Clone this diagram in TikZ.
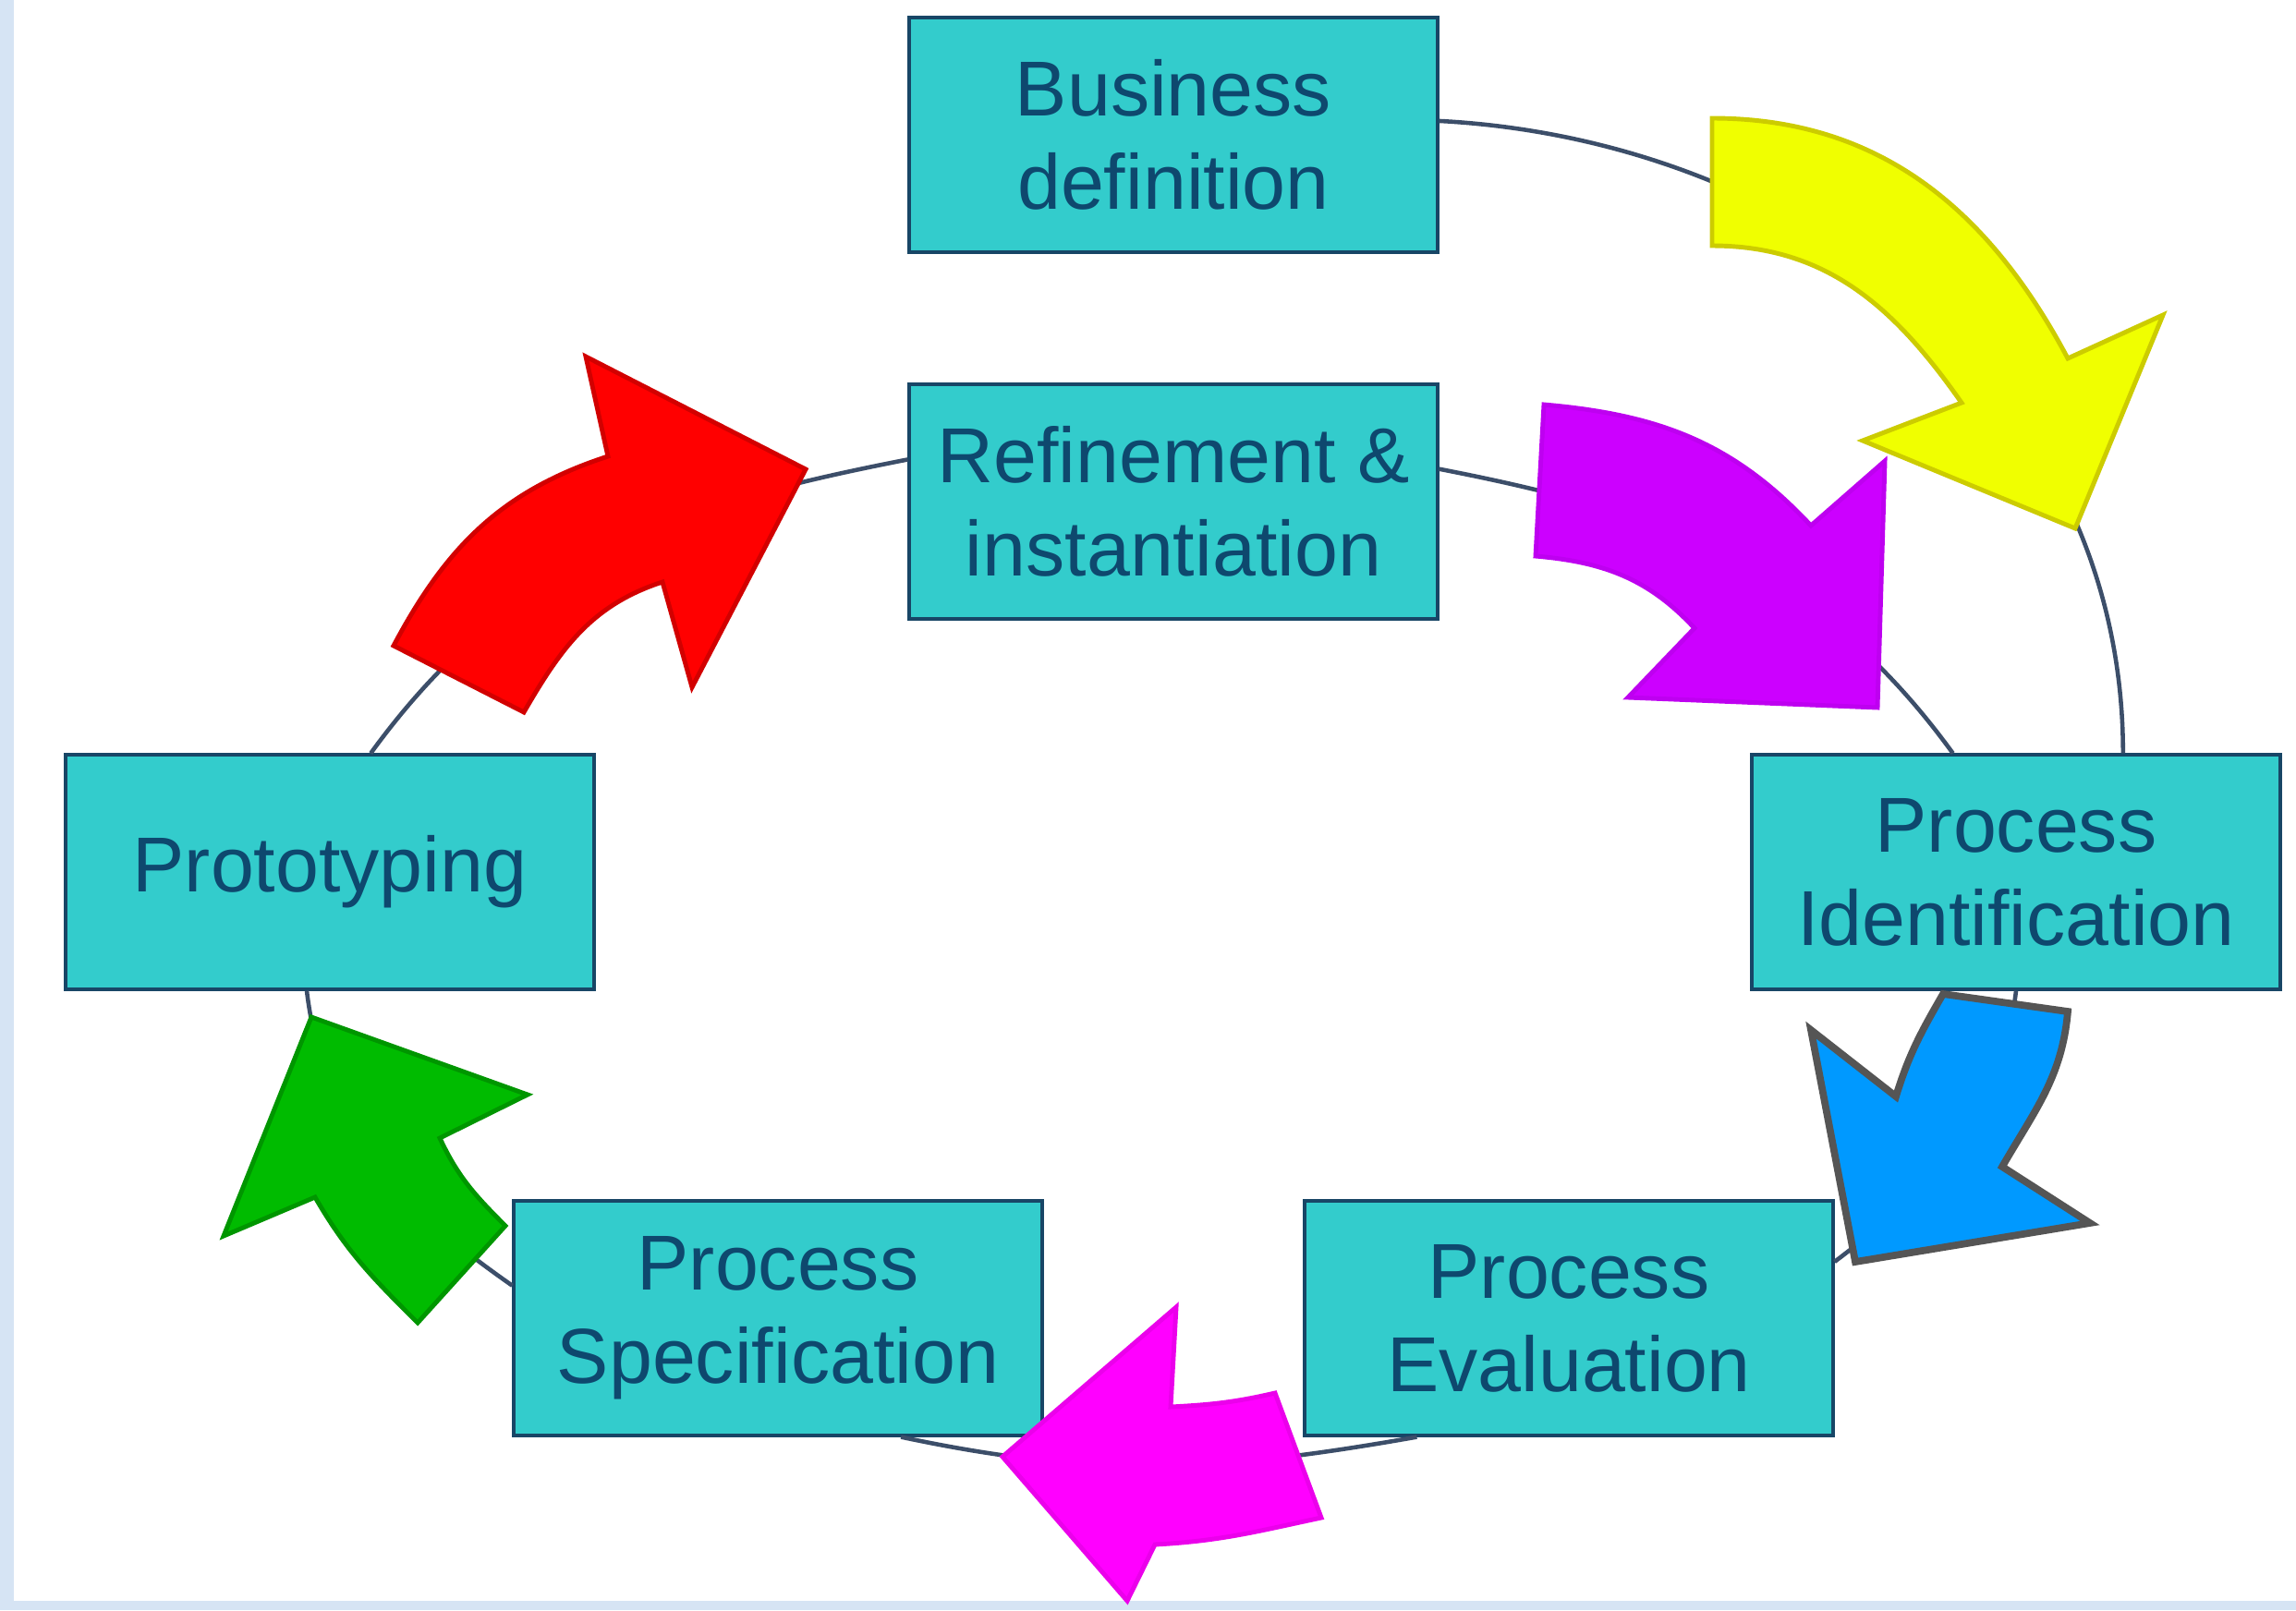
\documentclass[tikz,border=0pt]{standalone}
\usepackage{fontspec}
\setmainfont{Liberation Sans}
\definecolor{boxfill}{RGB}{51,204,204}
\definecolor{boxline}{RGB}{24,70,102}
\definecolor{boxtext}{RGB}{14,72,110}
\definecolor{ringline}{RGB}{60,78,105}
\definecolor{slideblue}{RGB}{214,228,244}
\definecolor{yellowfill}{RGB}{240,255,0}
\definecolor{yellowline}{RGB}{204,204,0}
\definecolor{violetfill}{RGB}{204,0,255}
\definecolor{violetline}{RGB}{190,0,240}
\definecolor{bluefill}{RGB}{0,153,255}
\definecolor{blueline}{RGB}{85,85,85}
\definecolor{pinkfill}{RGB}{255,0,255}
\definecolor{pinkline}{RGB}{235,0,235}
\definecolor{greenfill}{RGB}{0,187,0}
\definecolor{greenline}{RGB}{0,150,0}
\definecolor{redfill}{RGB}{255,0,0}
\definecolor{redline}{RGB}{210,0,0}
\begin{document}
\begin{tikzpicture}[
    x=1cm, y=1cm,
    stage/.style={draw=boxline, fill=boxfill, line width=0.9pt,
                  minimum width=5.72cm, minimum height=2.54cm,
                  align=center, text=boxtext, font=\fontsize{24}{28.7}\selectfont},
    ring/.style={draw=ringline, line width=1.3pt},
    bigarrow/.style={line width=1.4pt, line join=miter}
  ]
  \useasboundingbox (0,0) rectangle (24.85,-17.43);
  \fill[slideblue] (0,0) rectangle (24.85,-17.43);
  \fill[white] (0.15,0) rectangle (24.85,-17.33);

  % stages
  \foreach \nm/\xx/\yy/\txt in {
      bd/12.70/-1.46/Business\\definition,
      ri/12.70/-5.43/Refinement \&\\instantiation,
      pp/3.57/-9.44/Prototyping,
      pi/21.82/-9.44/Process\\Identification,
      ps/8.42/-14.27/Process\\Specification,
      pe/16.98/-14.27/Process\\Evaluation} {
    \node[stage] (\nm) at (\xx,\yy) {\txt};
  }

  % ring
  \draw[ring] (bd.3) to[out=-3,in=90] (pi.48);
  \draw[ring] (ri.7) to[out=-11,in=126] (pi.118);
  \draw[ring] (pi.south) to[out=-97,in=37] (pe.12);
  \draw[ring] (pe.218) to[out=190,in=-12] (ps.316);
  \draw[ring] (ps.173) to[out=145,in=-83] (pp.259);
  \draw[ring] (pp.71) to[out=54,in=-169] (ri.171);

  % block arrows
  \draw[bigarrow, draw=yellowline, fill=yellowfill]
    (21.23,-4.36) to[out=125,in=0] (18.53,-2.66) -- (18.53,-1.28)
    to[out=0,in=118] (22.38,-3.88) -- (23.41,-3.41) -- (22.46,-5.72)
    -- (20.16,-4.77) -- cycle;
  \draw[bigarrow, draw=violetline, fill=violetfill]
    (18.34,-6.80) to[out=133,in=-5] (16.62,-6.02) -- (16.71,-4.38)
    to[out=-5,in=133] (19.60,-5.69) -- (20.40,-4.99) -- (20.32,-7.66)
    -- (17.62,-7.55) -- cycle;
  \draw[bigarrow, draw=blueline, fill=bluefill, line width=2.2pt]
    (20.52,-11.87) to[out=73,in=-120] (21.03,-10.76) -- (22.38,-10.95)
    to[out=-95,in=60] (21.67,-12.63) -- (22.62,-13.24) -- (20.08,-13.66)
    -- (19.60,-11.15) -- cycle;
  \draw[bigarrow, draw=pinkline, fill=pinkfill]
    (12.50,-16.72) to[out=3,in=192] (14.30,-16.43) -- (13.80,-15.08)
    to[out=193,in=3] (12.67,-15.23) -- (12.73,-14.15) -- (10.85,-15.77)
    -- (12.20,-17.33) -- cycle;
  \draw[bigarrow, draw=greenline, fill=greenfill]
    (4.52,-14.32) to[out=135,in=-60] (3.41,-12.96) -- (2.42,-13.38)
    -- (3.37,-11.01) -- (5.71,-11.85) -- (4.76,-12.32)
    to[out=-65,in=135] (5.47,-13.27) -- cycle;
  \draw[bigarrow, draw=redline, fill=redfill]
    (7.17,-6.30) to[out=198,in=60] (5.67,-7.71) -- (4.26,-6.99)
    to[out=62,in=-162] (6.58,-4.94) -- (6.34,-3.86) -- (8.72,-5.08)
    -- (7.49,-7.44) -- cycle;
\end{tikzpicture}
\end{document}
